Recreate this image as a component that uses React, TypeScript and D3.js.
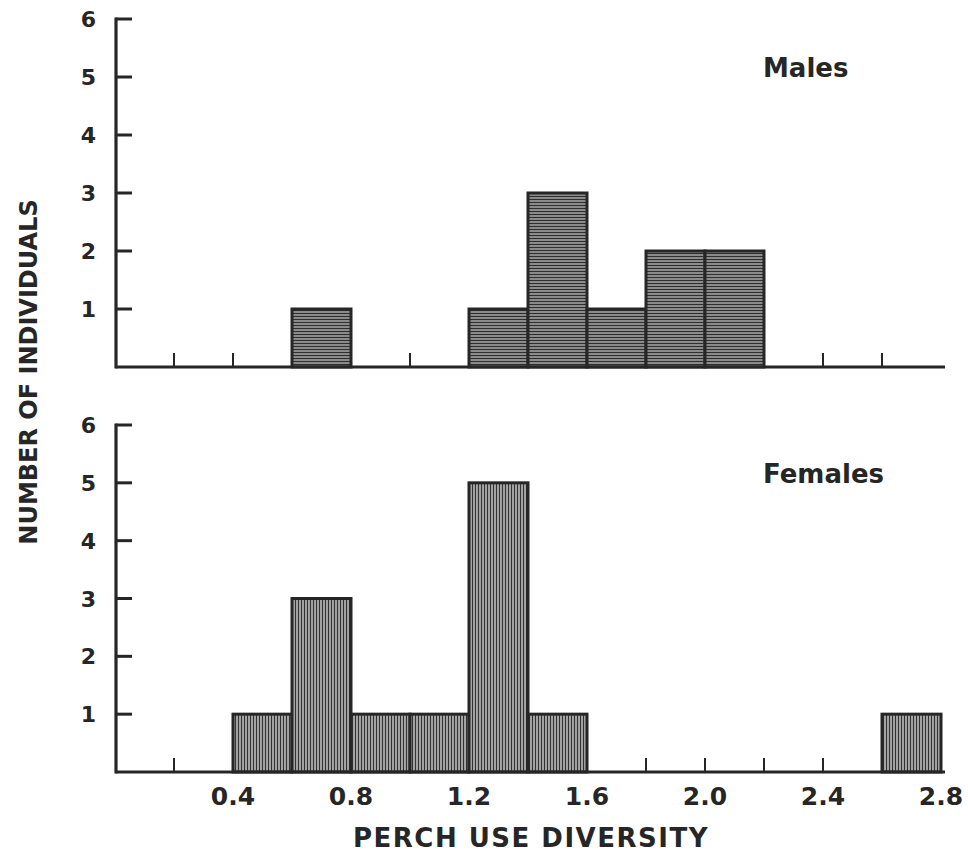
import React from "react";
import * as d3 from "d3";

// histogram bins (lower edges), width 0.2
const binStarts = [0.0, 0.2, 0.4, 0.6, 0.8, 1.0, 1.2, 1.4, 1.6, 1.8, 2.0, 2.2, 2.4, 2.6];
const binWidth = 0.2;
const males = [0, 0, 0, 1, 0, 0, 1, 3, 1, 2, 2, 0, 0, 0];
const females = [0, 0, 1, 3, 1, 1, 5, 1, 0, 0, 0, 0, 0, 1];
const yTicks = [1, 2, 3, 4, 5, 6];
const xMinorTicks = [0.2, 0.4, 0.6, 0.8, 1.0, 1.2, 1.4, 1.6, 1.8, 2.0, 2.2, 2.4, 2.6];
const xTickLabels = ["0.4", "0.8", "1.2", "1.6", "2.0", "2.4", "2.8"];

const W = 968;
const H = 858;
const ink = "#262626";
const font = "'DejaVu Sans', sans-serif";

const x = d3.scaleLinear().domain([0, 2.8]).range([115, 941]);

const panels = [
  { name: "Males", values: males, y: d3.scaleLinear().domain([0, 6]).range([367, 19]), pattern: "hatchH", labelY: 77 },
  { name: "Females", values: females, y: d3.scaleLinear().domain([0, 6]).range([772, 425]), pattern: "hatchV", labelY: 483 },
];

function Panel({ p, showLabels }) {
  const y = p.y;
  const y0 = y(0);
  return (
    <g>
      {/* x ticks, pointing up */}
      {xMinorTicks.map((t) => (
        <line key={t} x1={x(t)} x2={x(t)} y1={y0} y2={y0 - 14} stroke={ink} strokeWidth={2} />
      ))}
      {/* bars */}
      {p.values.map((v, i) =>
        v > 0 ? (
          <rect
            key={i}
            x={x(binStarts[i])}
            y={y(v)}
            width={x(binStarts[i] + binWidth) - x(binStarts[i])}
            height={y0 - y(v)}
            fill={`url(#${p.pattern})`}
            stroke={ink}
            strokeWidth={3}
          />
        ) : null
      )}
      {/* axes */}
      <line x1={116} x2={116} y1={y(6) - 1.5} y2={y0 + 1.5} stroke={ink} strokeWidth={3.2} />
      <line x1={116} x2={945} y1={y0} y2={y0} stroke={ink} strokeWidth={3.2} />
      {yTicks.map((t) => (
        <g key={t}>
          <line x1={116} x2={132} y1={y(t)} y2={y(t)} stroke={ink} strokeWidth={3} />
          <text x={96} y={y(t) + 8} textAnchor="end" fontSize={22} fontWeight="bold" fill={ink} fontFamily={font}>
            {t}
          </text>
        </g>
      ))}
      <text x={763} y={p.labelY} fontSize={26} fontWeight="bold" fill={ink} fontFamily={font}>
        {p.name}
      </text>
      {showLabels &&
        xTickLabels.map((l) => (
          <text key={l} x={x(+l)} y={805} textAnchor="middle" fontSize={25} fontWeight="bold" fill={ink} fontFamily={font}>
            {l}
          </text>
        ))}
    </g>
  );
}

export default function App() {
  return (
    <svg width={W} height={H} style={{ position: "absolute", left: 0, top: 0, background: "#fff" }}>
      <defs>
        <pattern id="hatchH" width={6} height={3} patternUnits="userSpaceOnUse">
          <rect width={6} height={3} fill="#e8e8e8" />
          <line x1={0} x2={6} y1={1.5} y2={1.5} stroke="#2e2e2e" strokeWidth={2} />
        </pattern>
        <pattern id="hatchV" width={3} height={6} patternUnits="userSpaceOnUse">
          <rect width={3} height={6} fill="#ececec" />
          <line x1={1.5} x2={1.5} y1={0} y2={6} stroke="#333" strokeWidth={1.8} />
        </pattern>
      </defs>
      <Panel p={panels[0]} showLabels={false} />
      <Panel p={panels[1]} showLabels={true} />
      <text x={531} y={847} textAnchor="middle" fontSize={26} fontWeight="bold" letterSpacing={1.5} fill={ink} fontFamily={font}>
        PERCH USE DIVERSITY
      </text>
      <text
        transform="translate(37,372) rotate(-90)"
        textAnchor="middle"
        fontSize={24}
        fontWeight="bold"
        fill={ink}
        fontFamily={font}
      >
        NUMBER OF INDIVIDUALS
      </text>
    </svg>
  );
}
